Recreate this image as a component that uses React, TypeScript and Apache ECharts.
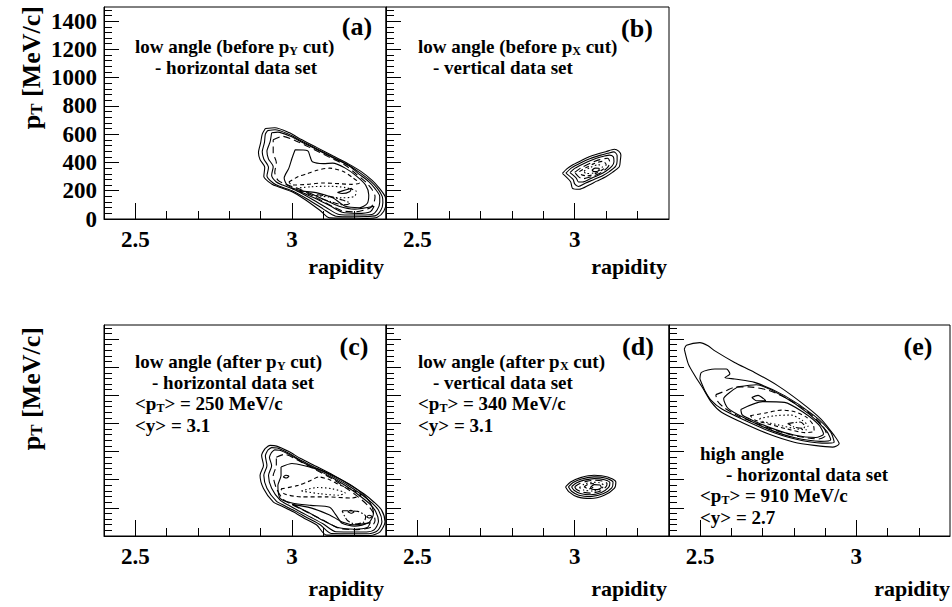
import React, { useEffect, useRef } from "react";
import * as echarts from "echarts";

type Pt = [number, number];
type Contour = [number, Pt[]]; // [contour level, closed ring of (rapidity, pT) points]

// ---- axes ----
const RAPIDITY_MIN = 2.4;
const RAPIDITY_MAX = 3.3;
const PT_MIN = 0;
const PT_MAX = 1500;
const X_MAJOR = [2.5, 3];
const X_MINOR = [2.6, 2.7, 2.8, 2.9, 3.1, 3.2];
const Y_MAJOR = [0, 200, 400, 600, 800, 1000, 1200, 1400];
const Y_MINOR = [
  40, 80, 120, 160, 240, 280, 320, 360, 440, 480, 520, 560, 640, 680, 720, 760,
  840, 880, 920, 960, 1040, 1080, 1120, 1160, 1240, 1280, 1320, 1360, 1440, 1480,
];

// ---- (a) low angle, before pY cut ----
const CONT_A: Contour[] = [
  [0, [[2.915, 640], [2.945, 646], [2.99, 612], [3.03, 562], [3.08, 505], [3.13, 447], [3.18, 390], [3.22, 337], [3.255, 275], [3.278, 220], [3.297, 160], [3.3, 115], [3.293, 55], [3.272, 12], [3.24, 4], [3.19, 6], [3.12, 8], [3.09, 60], [3.04, 140], [3.0, 192], [2.96, 225], [2.935, 248], [2.91, 300], [2.913, 365], [2.898, 420], [2.893, 470], [2.9, 540], [2.905, 600], [2.915, 640]]],
  [1, [[2.922, 625], [2.946, 632], [2.99, 600], [3.03, 552], [3.08, 495], [3.13, 438], [3.18, 382], [3.215, 330], [3.25, 270], [3.272, 218], [3.288, 160], [3.29, 115], [3.283, 60], [3.265, 22], [3.2, 16], [3.14, 20], [3.1, 70], [3.05, 140], [3.0, 200], [2.96, 232], [2.94, 255], [2.92, 305], [2.925, 365], [2.91, 425], [2.905, 475], [2.912, 540], [2.915, 600], [2.922, 625]]],
  [2, [[2.935, 610], [2.955, 615], [2.995, 585], [3.035, 540], [3.085, 485], [3.135, 428], [3.185, 372], [3.21, 325], [3.245, 265], [3.265, 215], [3.28, 160], [3.28, 118], [3.272, 65], [3.255, 32], [3.2, 28], [3.15, 32], [3.11, 80], [3.06, 145], [3.01, 205], [2.97, 240], [2.95, 262], [2.935, 310], [2.94, 370], [2.925, 425], [2.92, 480], [2.93, 545], [2.935, 610]]],
  [2, [[3.02, 200], [3.07, 150], [3.12, 95], [3.16, 48], [3.21, 40], [3.25, 52], [3.262, 90], [3.2, 70], [3.15, 90], [3.1, 140], [3.05, 190], [3.02, 200]]],
  [3, [[2.94, 560], [2.97, 585], [3.02, 545], [3.07, 492], [3.12, 436], [3.17, 380], [3.205, 318], [3.235, 262], [3.255, 210], [3.265, 160], [3.262, 120], [3.25, 80], [3.2, 50], [3.16, 58], [3.12, 100], [3.07, 160], [3.02, 215], [2.98, 245], [2.955, 275], [2.945, 330], [2.95, 400], [2.94, 470], [2.94, 560]]],
  [4, [[3.01, 490], [3.05, 483], [3.058, 440], [3.065, 405], [3.1, 392], [3.13, 395], [3.17, 360], [3.205, 305], [3.235, 240], [3.245, 170], [3.24, 110], [3.215, 80], [3.17, 90], [3.13, 150], [3.08, 185], [3.03, 200], [2.985, 240], [2.975, 290], [2.99, 360], [3.0, 430], [3.01, 490]]],
  [5, [[2.99, 262], [3.02, 300], [3.05, 322], [3.08, 345], [3.12, 360], [3.165, 335], [3.195, 290], [3.215, 255], [3.19, 245], [3.15, 250], [3.1, 255], [3.05, 245], [3.0, 240], [2.99, 262]]],
  [6, [[3.0, 215], [3.06, 228], [3.12, 232], [3.17, 222], [3.205, 195], [3.2, 160], [3.16, 150], [3.1, 160], [3.04, 180], [3.0, 215]]],
  [8, [[3.145, 188], [3.17, 205], [3.19, 218], [3.185, 195], [3.16, 180], [3.145, 188]]],
  [7, [[3.08, 172], [3.12, 160], [3.16, 135], [3.185, 112], [3.165, 100], [3.125, 122], [3.09, 148], [3.08, 172]]],
];

// ---- (b) low angle, before pX cut ----
const CONT_B: Contour[] = [
  [0, [[2.961, 323], [2.975, 355], [2.993, 382], [3.02, 412], [3.046, 441], [3.075, 462], [3.099, 476], [3.126, 493], [3.14, 480], [3.147, 453], [3.145, 410], [3.142, 370], [3.12, 330], [3.099, 299], [3.07, 268], [3.046, 241], [3.014, 210], [2.993, 217], [2.987, 264], [2.961, 323]]],
  [1, [[2.972, 325], [2.99, 362], [3.02, 398], [3.05, 428], [3.08, 450], [3.105, 465], [3.125, 475], [3.135, 450], [3.135, 410], [3.13, 372], [3.11, 335], [3.09, 308], [3.06, 278], [3.035, 255], [3.012, 230], [3.0, 248], [2.995, 280], [2.972, 325]]],
  [2, [[2.985, 328], [3.0, 358], [3.025, 388], [3.055, 418], [3.085, 440], [3.11, 452], [3.123, 440], [3.125, 405], [3.118, 372], [3.1, 340], [3.08, 315], [3.05, 285], [3.025, 262], [3.012, 262], [3.005, 290], [2.985, 328]]],
  [3, [[3.0, 330], [3.02, 362], [3.05, 395], [3.08, 420], [3.105, 430], [3.112, 400], [3.105, 365], [3.085, 330], [3.055, 300], [3.025, 285], [3.012, 300], [3.0, 330]]],
  [5, [[3.015, 335], [3.035, 362], [3.06, 390], [3.09, 408], [3.1, 385], [3.092, 355], [3.07, 325], [3.04, 305], [3.02, 315], [3.015, 335]]],
  [6, [[3.03, 340], [3.05, 365], [3.075, 385], [3.088, 370], [3.08, 345], [3.06, 325], [3.035, 322], [3.03, 340]]],
  [4, [[3.055, 345], [3.065, 360], [3.078, 358], [3.075, 340], [3.062, 335], [3.055, 345]]],
];

// ---- (c) low angle, after pY cut ----
const CONT_C: Contour[] = [
  [0, [[2.914, 621], [2.93, 644], [2.951, 639], [2.99, 600], [3.026, 552], [3.08, 492], [3.132, 432], [3.18, 370], [3.228, 302], [3.262, 240], [3.286, 184], [3.297, 101], [3.281, 30], [3.25, 4], [3.11, 6], [3.079, 78], [3.04, 125], [3.004, 172], [2.97, 210], [2.94, 243], [2.909, 338], [2.898, 432], [2.909, 502], [2.903, 573], [2.914, 621]]],
  [1, [[2.922, 608], [2.935, 628], [2.953, 625], [2.99, 588], [3.026, 540], [3.08, 481], [3.13, 422], [3.178, 361], [3.222, 295], [3.255, 235], [3.277, 180], [3.287, 102], [3.273, 38], [3.245, 16], [3.125, 18], [3.09, 80], [3.05, 128], [3.012, 175], [2.978, 214], [2.95, 248], [2.92, 340], [2.91, 432], [2.92, 500], [2.915, 570], [2.922, 608]]],
  [2, [[2.935, 595], [2.945, 612], [2.96, 610], [2.995, 575], [3.03, 528], [3.082, 470], [3.13, 412], [3.175, 352], [3.215, 288], [3.247, 230], [3.267, 175], [3.276, 104], [3.263, 45], [3.238, 28], [3.14, 30], [3.1, 85], [3.06, 133], [3.02, 180], [2.988, 220], [2.962, 255], [2.935, 340], [2.925, 430], [2.935, 500], [2.928, 560], [2.935, 595]]],
  [2, [[3.0, 225], [3.05, 170], [3.1, 110], [3.15, 58], [3.2, 48], [3.24, 60], [3.25, 95], [3.2, 80], [3.16, 100], [3.12, 150], [3.06, 200], [3.0, 225]]],
  [3, [[2.95, 560], [2.975, 580], [3.03, 525], [3.08, 465], [3.13, 405], [3.17, 345], [3.21, 280], [3.24, 222], [3.258, 170], [3.265, 110], [3.25, 60], [3.2, 45], [3.15, 55], [3.11, 100], [3.07, 145], [3.03, 190], [2.995, 228], [2.97, 265], [2.95, 340], [2.94, 430], [2.95, 500], [2.95, 560]]],
  [4, [[2.965, 490], [3.0, 515], [3.04, 500], [3.09, 470], [3.14, 420], [3.19, 360], [3.225, 300], [3.25, 235], [3.26, 160], [3.245, 95], [3.2, 70], [3.16, 90], [3.14, 150], [3.12, 205], [3.06, 218], [3.0, 235], [2.962, 268], [2.955, 360], [2.965, 430], [2.965, 490]]],
  [5, [[2.965, 335], [3.02, 360], [3.06, 395], [3.085, 420], [3.12, 400], [3.15, 365], [3.19, 330], [3.22, 290], [3.19, 270], [3.11, 278], [3.03, 278], [2.975, 300], [2.965, 335]]],
  [6, [[3.03, 320], [3.08, 345], [3.13, 335], [3.17, 305], [3.15, 290], [3.09, 300], [3.03, 320]]],
  [8, [[2.972, 420], [2.98, 432], [2.99, 425], [2.982, 412], [2.972, 420]]],
  [8, [[3.178, 172], [3.188, 182], [3.198, 172], [3.188, 162], [3.178, 172]]],
  [8, [[3.238, 137], [3.246, 147], [3.256, 138], [3.246, 128], [3.238, 137]]],
  [7, [[3.16, 180], [3.21, 175], [3.235, 140], [3.23, 100], [3.2, 85], [3.175, 115], [3.16, 180]]],
];

// ---- (d) low angle, after pX cut ----
const CONT_D: Contour[] = [
  [0, [[2.971, 349], [2.987, 384], [3.019, 415], [3.062, 432], [3.105, 420], [3.131, 384], [3.126, 338], [3.094, 290], [3.051, 267], [3.009, 278], [2.982, 314], [2.971, 349]]],
  [1, [[2.98, 350], [2.995, 380], [3.022, 405], [3.062, 420], [3.1, 410], [3.122, 382], [3.118, 342], [3.09, 300], [3.05, 280], [3.013, 290], [2.99, 318], [2.98, 350]]],
  [2, [[2.99, 350], [3.005, 376], [3.03, 397], [3.062, 408], [3.095, 400], [3.112, 378], [3.108, 345], [3.085, 310], [3.05, 293], [3.018, 302], [2.998, 325], [2.99, 350]]],
  [3, [[3.0, 350], [3.015, 372], [3.04, 390], [3.065, 396], [3.09, 390], [3.103, 372], [3.098, 345], [3.08, 318], [3.05, 305], [3.022, 313], [3.005, 332], [3.0, 350]]],
  [6, [[3.015, 345], [3.03, 368], [3.055, 382], [3.08, 378], [3.092, 360], [3.085, 335], [3.06, 320], [3.03, 325], [3.015, 345]]],
  [4, [[3.05, 345], [3.062, 365], [3.08, 362], [3.085, 345], [3.072, 330], [3.055, 332], [3.05, 345]]],
  [5, [[3.03, 350], [3.045, 370], [3.06, 372], [3.06, 350], [3.045, 335], [3.03, 350]]],
];

// ---- (e) high angle ----
const CONT_E: Contour[] = [
  [0, [[2.449, 1328], [2.456, 1356], [2.499, 1375], [2.525, 1352], [2.547, 1316], [2.61, 1234], [2.674, 1163], [2.748, 1069], [2.823, 950], [2.886, 833], [2.929, 715], [2.945, 656], [2.924, 632], [2.865, 644], [2.801, 667], [2.717, 727], [2.632, 809], [2.568, 880], [2.536, 950], [2.51, 1045], [2.483, 1139], [2.462, 1222], [2.449, 1328]]],
  [1, [[2.499, 1116], [2.504, 1163], [2.547, 1187], [2.584, 1187], [2.595, 1151], [2.579, 1127], [2.61, 1116], [2.674, 1092], [2.77, 998], [2.865, 856], [2.918, 738], [2.929, 667], [2.89, 660], [2.801, 691], [2.717, 750], [2.632, 833], [2.568, 904], [2.536, 962], [2.515, 1033], [2.499, 1116]]],
  [2, [[2.62, 1060], [2.68, 1075], [2.76, 1000], [2.85, 865], [2.905, 745], [2.918, 685], [2.885, 673], [2.8, 700], [2.72, 758], [2.645, 835], [2.59, 905], [2.575, 975], [2.6, 1030], [2.62, 1060]]],
  [3, [[2.55, 1005], [2.585, 1035], [2.61, 1058], [2.655, 1060], [2.72, 1035], [2.78, 975], [2.84, 890], [2.89, 790], [2.905, 720], [2.88, 690], [2.82, 705], [2.75, 745], [2.68, 800], [2.62, 855], [2.575, 915], [2.555, 960], [2.55, 1005]]],
  [8, [[2.665, 985], [2.685, 1000], [2.71, 962], [2.68, 962], [2.665, 985]]],
  [4, [[2.63, 900], [2.7, 955], [2.77, 950], [2.83, 880], [2.88, 790], [2.895, 725], [2.87, 700], [2.8, 718], [2.73, 765], [2.67, 820], [2.635, 860], [2.63, 900]]],
  [5, [[2.66, 855], [2.71, 875], [2.76, 895], [2.8, 885], [2.84, 845], [2.862, 790], [2.865, 745], [2.835, 735], [2.78, 760], [2.72, 795], [2.675, 825], [2.66, 855]]],
  [6, [[2.69, 835], [2.74, 855], [2.79, 860], [2.825, 825], [2.845, 780], [2.84, 755], [2.8, 765], [2.75, 790], [2.7, 815], [2.69, 835]]],
  [7, [[2.78, 800], [2.82, 810], [2.835, 780], [2.83, 765], [2.8, 775], [2.78, 800]]],
];

// ---- annotation texts (p_{X} marks a subscript) ----
const TEXT_A = ["low angle (before p_{Y} cut)", "- horizontal data set"];
const TEXT_B = ["low angle (before p_{X} cut)", "- vertical data set"];
const TEXT_C = ["low angle (after p_{Y} cut)", "- horizontal data set", "<p_{T}> = 250 MeV/c", "<y> = 3.1"];
const TEXT_D = ["low angle (after p_{X} cut)", "- vertical data set", "<p_{T}> = 340 MeV/c", "<y> = 3.1"];
const TEXT_E = ["high angle", "- horizontal data set", "<p_{T}> = 910 MeV/c", "<y> = 2.7"];
const PANEL_TAGS = ["(a)", "(b)", "(c)", "(d)", "(e)"];
const X_TITLE = "rapidity";
const Y_TITLE = "p_{T} [MeV/c]";

// ---- styling ----
const FONT = "Liberation Serif";
const LEVEL_DASH: (string | number[])[] = [
  "solid", "solid", "solid", [7, 4], "solid", [4, 3], [1.5, 2.5], [6, 2, 1.5, 2], "solid",
];

interface PanelLayout {
  contours: Contour[];
  box: { left: number; top: number; width: number; height: number };
  yLabels: boolean;
  text: string[];
  textX: number;
  textY: number[];
  indent: number[];
  tag: [number, number];
  xTitle: [number, number];
}

const PANELS: PanelLayout[] = [
  { contours: CONT_A, box: { left: 104, top: 7, width: 282, height: 212 }, yLabels: true, text: TEXT_A, textX: 135, textY: [46, 67], indent: [0, 20], tag: [357, 26], xTitle: [384, 266] },
  { contours: CONT_B, box: { left: 386, top: 7, width: 283, height: 212 }, yLabels: false, text: TEXT_B, textX: 418, textY: [46, 67], indent: [0, 15], tag: [637, 28], xTitle: [667, 266] },
  { contours: CONT_C, box: { left: 104, top: 325, width: 282, height: 211 }, yLabels: false, text: TEXT_C, textX: 135, textY: [361, 382, 403, 425], indent: [0, 17, 0, 0], tag: [354, 346], xTitle: [384, 588] },
  { contours: CONT_D, box: { left: 386, top: 325, width: 283, height: 211 }, yLabels: false, text: TEXT_D, textX: 418, textY: [361, 382, 403, 425], indent: [0, 15, 0, 0], tag: [638, 346], xTitle: [667, 588] },
  { contours: CONT_E, box: { left: 669, top: 325, width: 281, height: 211 }, yLabels: false, text: TEXT_E, textX: 700, textY: [453, 474, 495, 517], indent: [0, 26, 0, 0], tag: [918, 346], xTitle: [950, 588] },
];

function richLine(src: string): string {
  const parts = src.split(/_\{([^}]*)\}/);
  let out = "";
  parts.forEach((p, i) => {
    if (!p) return;
    out += i % 2 === 1 ? `{s|${p}}` : `{n|${p}}`;
  });
  return out;
}

function richStyles(size: number) {
  return {
    n: { fontSize: size, fontWeight: "bold", fontFamily: FONT, fill: "#000", lineHeight: size + 2, verticalAlign: "middle" },
    s: { fontSize: Math.round(size * 0.65), fontWeight: "bold", fontFamily: FONT, fill: "#000", lineHeight: Math.round(size * 0.63), verticalAlign: "bottom" },
  };
}

function textEl(x: number, y: number, src: string, size: number, align = "left", rotation = 0) {
  return {
    type: "text",
    x,
    y,
    rotation,
    silent: true,
    style: {
      text: richLine(src),
      rich: richStyles(size),
      align,
      verticalAlign: "middle",
      fill: "#000",
      fontFamily: FONT,
      fontWeight: "bold",
      fontSize: size,
    },
  };
}

function buildOption() {
  const grid: any[] = [];
  const xAxis: any[] = [];
  const yAxis: any[] = [];
  const series: any[] = [];
  const graphic: any[] = [];
  const labelStyle = { color: "#000", fontFamily: FONT, fontWeight: "bold", fontSize: 23 };
  const axisLine = { show: true, lineStyle: { color: "#000", width: 1 } };

  PANELS.forEach((p, i) => {
    grid.push({ ...p.box, show: true, borderColor: "#000", borderWidth: 1, backgroundColor: "transparent" });
    // minor ticks (and the axis line) / major ticks with labels
    xAxis.push({
      gridIndex: i, type: "value", position: "bottom", min: RAPIDITY_MIN, max: RAPIDITY_MAX,
      axisLine, splitLine: { show: false },
      axisTick: { show: true, inside: true, length: 8, customValues: X_MINOR, lineStyle: { color: "#000", width: 1 } },
      axisLabel: { show: false },
    });
    xAxis.push({
      gridIndex: i, type: "value", position: "bottom", min: RAPIDITY_MIN, max: RAPIDITY_MAX,
      axisLine: { show: false }, splitLine: { show: false },
      axisTick: { show: true, inside: true, length: 16, customValues: X_MAJOR, lineStyle: { color: "#000", width: 1 } },
      axisLabel: { show: true, customValues: X_MAJOR, margin: 9, ...labelStyle, formatter: (v: number) => String(v) },
    });
    yAxis.push({
      gridIndex: i, type: "value", position: "left", min: PT_MIN, max: PT_MAX,
      axisLine, splitLine: { show: false },
      axisTick: { show: true, inside: true, length: 8, customValues: Y_MINOR, lineStyle: { color: "#000", width: 1 } },
      axisLabel: { show: false },
    });
    yAxis.push({
      gridIndex: i, type: "value", position: "left", min: PT_MIN, max: PT_MAX,
      axisLine: { show: false }, splitLine: { show: false },
      axisTick: { show: true, inside: true, length: 15, customValues: Y_MAJOR, lineStyle: { color: "#000", width: 1 } },
      axisLabel: { show: p.yLabels, customValues: Y_MAJOR, margin: 7, ...labelStyle, formatter: (v: number) => String(v) },
    });

    p.contours.forEach(([level, pts], k) => {
      series.push({
        type: "line",
        name: `${PANEL_TAGS[i]} level ${level} #${k}`,
        xAxisIndex: 2 * i,
        yAxisIndex: 2 * i,
        data: pts,
        showSymbol: false,
        symbol: "none",
        smooth: 0.25,
        silent: true,
        clip: true,
        lineStyle: { color: "#000", width: 1.1, type: LEVEL_DASH[level] },
      });
    });

    p.text.forEach((t, k) => graphic.push(textEl(p.textX + p.indent[k], p.textY[k], t, 19)));
    graphic.push(textEl(p.tag[0], p.tag[1], PANEL_TAGS[i], 26, "center"));
    graphic.push(textEl(p.xTitle[0], p.xTitle[1], X_TITLE, 22, "right"));
  });

  // vertical axis titles, anchored at their upper end
  graphic.push(textEl(31, 6, Y_TITLE, 26, "right", Math.PI / 2));
  graphic.push(textEl(31, 327, Y_TITLE, 26, "right", Math.PI / 2));

  return { animation: false, backgroundColor: "#fff", grid, xAxis, yAxis, series, graphic };
}

export default function App() {
  const ref = useRef<HTMLDivElement>(null);
  useEffect(() => {
    if (!ref.current) return;
    const chart = echarts.init(ref.current, undefined, { renderer: "svg" });
    chart.setOption(buildOption() as any);
    return () => chart.dispose();
  }, []);
  return (
    <div
      ref={ref}
      style={{ position: "fixed", left: 0, top: 0, width: 952, height: 607, background: "#fff" }}
    />
  );
}
